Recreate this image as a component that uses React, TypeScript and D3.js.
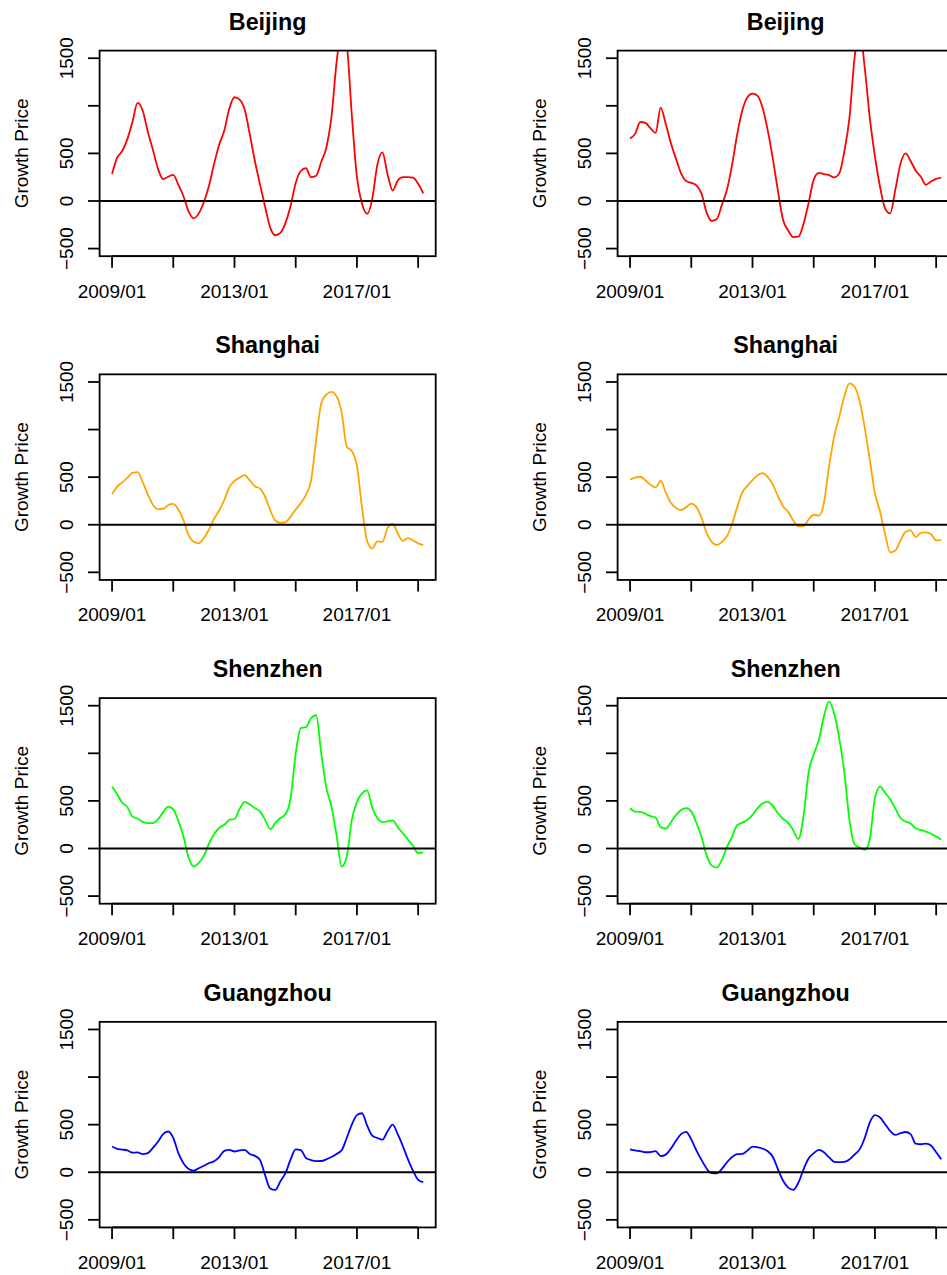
import React from "react";
import * as d3 from "d3";

// month offsets from 2009/01 (every second month)
const MONTHS = [0,2,4,6,8,10,12,14,16,18,20,22,24,26,28,30,32,34,36,38,40,42,44,46,48,50,52,54,56,58,60,62,64,66,68,70,72,74,76,78,80,82,84,86,88,90,92,94,96,98,100,102,104,106,108,110,112,114,116,118,120,122];

const CITIES = ["Beijing", "Shanghai", "Shenzhen", "Guangzhou"];
const COLORS = ["#FF0000", "#FFA500", "#00FF00", "#0000FF"];

const BJ_A = [283,455,525,650,830,1030,950,730,540,340, 230,255,275,170,50,-110,-182,-130,-10,160, 390,590,740,975,1090,1065,960,700,420,175, -60,-280,-360,-335,-230,-50,190,315,345,250, 265,410,560,880,1450,1790,1640,900,250,-30, -135,20,380,510,280,110,215,250,250,245, 180,80];
const BJ_B = [658,705,830,820,765,715,980,810,610,445, 290,210,190,165,80,-120,-210,-190,-40,120, 380,700,950,1090,1128,1105,975,740,440,100, -200,-310,-380,-375,-240,-20,225,296,283,272, 248,290,520,870,1500,1800,1400,870,470,150, -80,-130,120,390,500,420,318,255,170,205, 232,245];
const SH_A = [322,400,445,492,545,553,450,320,210,165, 168,206,220,160,50,-108,-178,-195,-140,-50, 60,150,260,395,460,495,520,465,405,380, 294,154,45,21,28,85,160,228,315,460, 890,1275,1368,1395,1350,1180,820,773,620,180, -170,-250,-175,-180,-35,10,-90,-170,-140,-165, -195,-213];
const SH_B = [476,495,504,468,420,392,462,340,230,176, 155,185,222,185,75,-85,-180,-213,-180,-120, 5,185,340,409,469,521,542,500,420,300, 195,135,45,-18,-14,55,105,95,230,609, 923,1133,1350,1485,1450,1300,1020,680,330,140, -100,-290,-270,-165,-75,-60,-130,-85,-80,-100, -165,-161];
const SZ_A = [651,570,480,435,335,315,280,266,266,305, 380,440,410,290,126,-95,-189,-150,-75,50, 150,215,250,301,310,415,490,462,425,390, 301,203,268,320,360,530,1000,1265,1274,1370, 1400,1000,640,440,140,-189,-90,301,490,580, 610,430,320,278,285,295,225,160,95,28, -50,-42];
const SZ_B = [423,388,385,365,340,325,224,210,275,350, 405,425,390,270,120,-70,-180,-200,-120,15, 125,245,272,301,353,423,475,490,445,370, 310,270,190,100,340,800,990,1140,1390,1543, 1420,1160,800,300,45,10,-15,100,530,651, 585,515,420,320,283,262,210,195,178,155, 125,91];
const GZ_A = [270,245,238,230,206,208,190,200,255,320, 400,428,360,200,95,35,18,42,68,96, 115,160,225,236,218,230,235,191,172,129, -30,-170,-185,-95,-10,135,240,232,150,128, 117,118,135,160,192,230,360,500,600,620, 490,385,360,342,430,500,400,275,135,15, -80,-105];
const GZ_B = [241,229,222,210,212,222,170,185,248,330, 400,425,345,230,130,40,-10,-12,35,105, 160,190,192,227,270,262,248,220,160,30, -90,-162,-185,-110,30,145,200,234,210,158, 110,106,110,135,185,240,360,525,600,575, 505,432,392,410,423,400,300,294,300,280, 210,136];

const LEFT_SERIES = [BJ_A, SH_A, SZ_A, GZ_A];
const RIGHT_SERIES = [BJ_B, SH_B, SZ_B, GZ_B];

const X_TICKS = [0, 24, 48, 72, 96, 120];
const X_LABELS = ["2009/01", "", "2013/01", "", "2017/01", ""];
const Y_TICKS = [-500, 0, 500, 1000, 1500];
const Y_LABELS = ["\u2212500", "0", "500", "", "1500"];

const COL_W = 518;
const ROW_H = 323.75;
const BOX = { left: 99.6, right: 435.7, top: 50.6, bottom: 256.2 };
const FONT = "'Liberation Sans', Arial, Helvetica, sans-serif";

const x = d3.scaleLinear().domain([-4.88, 126.88]).range([BOX.left, BOX.right]);
const y = d3.scaleLinear().domain([-580, 1580]).range([BOX.bottom, BOX.top]);

function Panel({ id, dx, dy, title, values, color }: any) {
  const line = d3
    .line<number>()
    .x((_, i) => x(MONTHS[i]))
    .y((d) => y(d))
    .curve(d3.curveMonotoneX);
  const clip = `clip-${id}`;
  return (
    <g transform={`translate(${dx},${dy})`}>
      <defs>
        <clipPath id={clip}>
          <rect x={BOX.left} y={BOX.top} width={BOX.right - BOX.left} height={BOX.bottom - BOX.top} />
        </clipPath>
      </defs>
      <text x={(BOX.left + BOX.right) / 2} y={29.5} textAnchor="middle" fontWeight="bold" fontSize={23.3} fontFamily={FONT}>
        {title}
      </text>
      <path d={line(values) || ""} fill="none" stroke={color} strokeWidth={1.8} clipPath={`url(#${clip})`} />
      <line x1={BOX.left} x2={BOX.right} y1={y(0)} y2={y(0)} stroke="#000" strokeWidth={1.8} />
      <rect x={BOX.left} y={BOX.top} width={BOX.right - BOX.left} height={BOX.bottom - BOX.top} fill="none" stroke="#000" strokeWidth={1.8} />
      {X_TICKS.map((t, i) => (
        <g key={`xt${i}`}>
          <line x1={x(t)} x2={x(t)} y1={BOX.bottom} y2={BOX.bottom + 11.6} stroke="#000" strokeWidth={1.8} />
          {X_LABELS[i] && (
            <text x={x(t)} y={297.5} textAnchor="middle" fontSize={19} fontFamily={FONT}>
              {X_LABELS[i]}
            </text>
          )}
        </g>
      ))}
      <line x1={x(X_TICKS[0])} x2={x(X_TICKS[X_TICKS.length - 1])} y1={BOX.bottom} y2={BOX.bottom} stroke="#000" strokeWidth={1.8} />
      {Y_TICKS.map((t, i) => (
        <g key={`yt${i}`}>
          <line x1={BOX.left - 11.6} x2={BOX.left} y1={y(t)} y2={y(t)} stroke="#000" strokeWidth={1.8} />
          {Y_LABELS[i] && (
            <text transform={`translate(73,${y(t)}) rotate(-90)`} textAnchor="middle" fontSize={19} fontFamily={FONT}>
              {Y_LABELS[i]}
            </text>
          )}
        </g>
      ))}
      <text transform={`translate(27.7,${(BOX.top + BOX.bottom) / 2}) rotate(-90)`} textAnchor="middle" fontSize={19} fontFamily={FONT}>
        Growth Price
      </text>
    </g>
  );
}

export default function App() {
  return (
    <svg width={947} height={1275} style={{ position: "absolute", left: 0, top: 0, background: "#fff" }}>
      <rect width={947} height={1275} fill="#fff" />
      {CITIES.map((c, r) => (
        <g key={c}>
          <Panel id={`L${r}`} dx={0} dy={r * ROW_H} title={c} values={LEFT_SERIES[r]} color={COLORS[r]} />
          <Panel id={`R${r}`} dx={COL_W} dy={r * ROW_H} title={c} values={RIGHT_SERIES[r]} color={COLORS[r]} />
        </g>
      ))}
    </svg>
  );
}
